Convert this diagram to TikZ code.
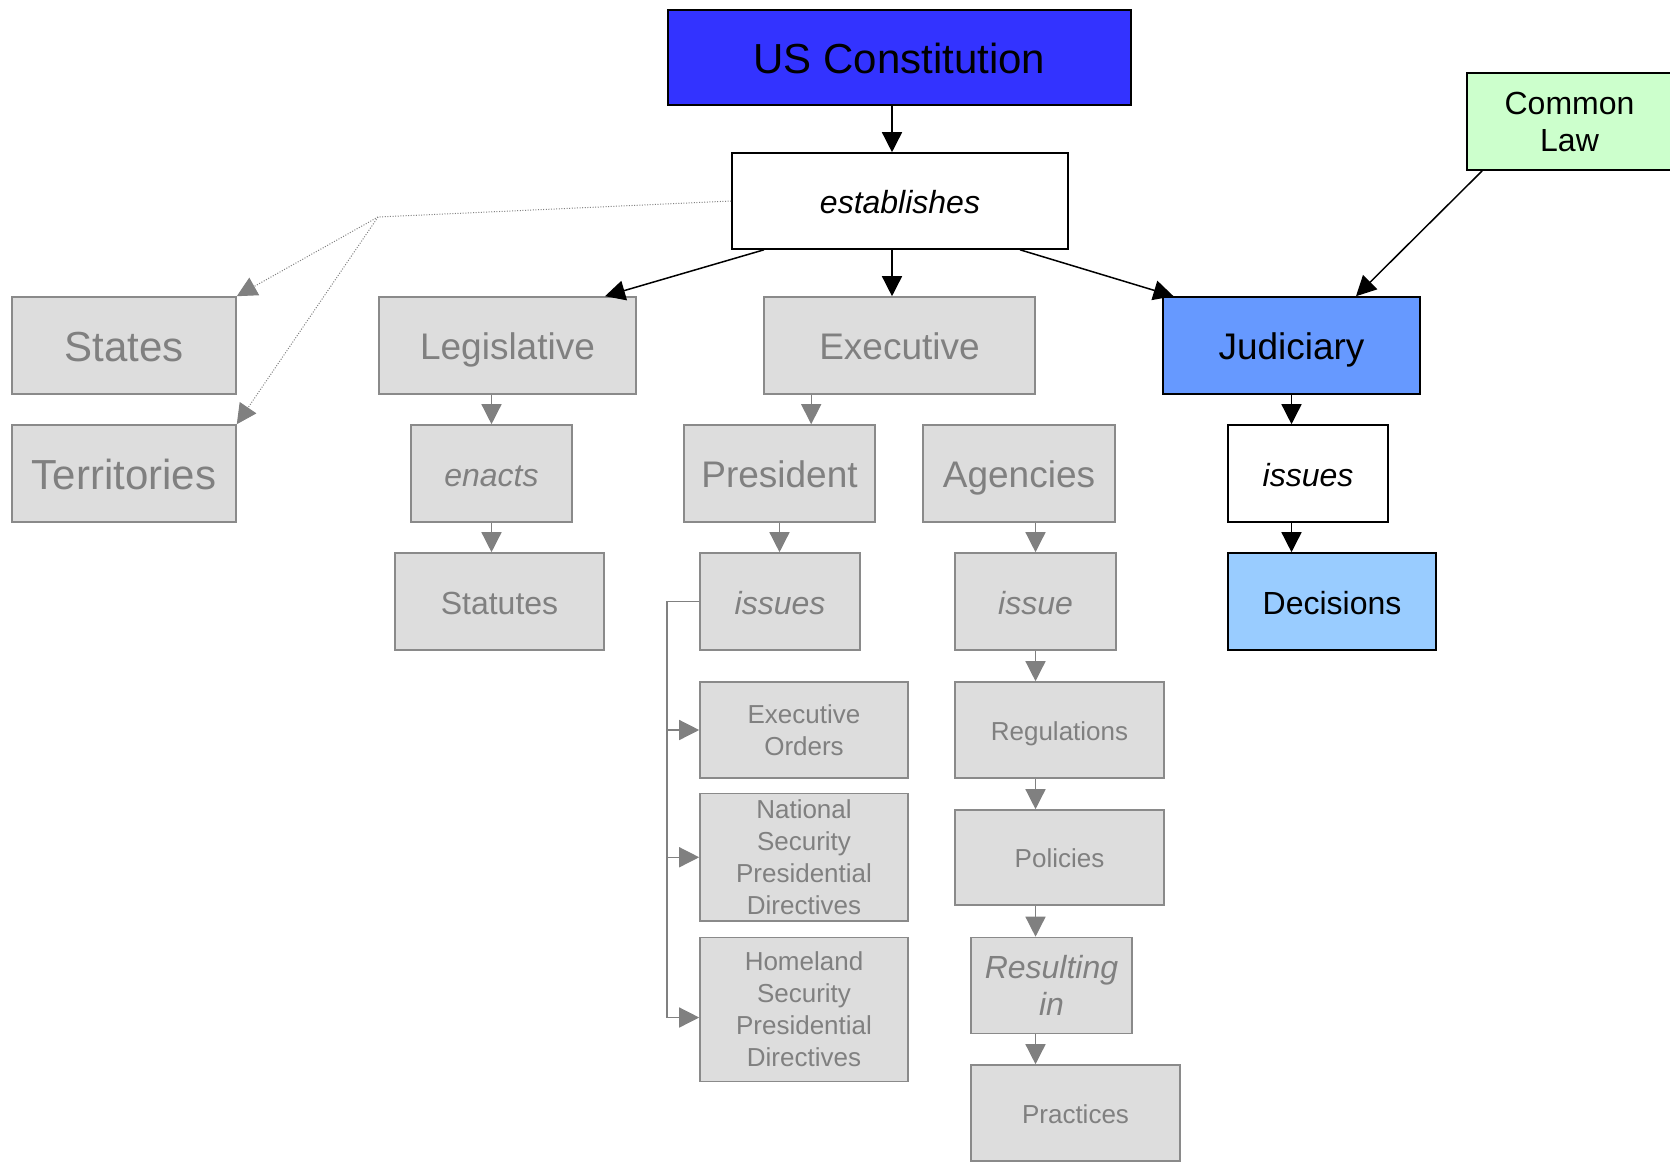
\documentclass[tikz,border=0pt]{standalone}
\usepackage{fontspec}
\setmainfont{Liberation Sans}
\usetikzlibrary{arrows.meta,calc}

\definecolor{conblue}{HTML}{3333FF}
\definecolor{judblue}{HTML}{6699FF}
\definecolor{decblue}{HTML}{99CCFF}
\definecolor{lawgreen}{HTML}{CCFFCC}
\definecolor{boxgrey}{HTML}{DDDDDD}
\definecolor{edgegrey}{HTML}{8A8A8A}
\definecolor{txtgrey}{HTML}{808080}

\tikzset{
  box/.style={rectangle, inner sep=0pt, line width=0.8pt},
  keybox/.style={box, draw=black, text=black},
  greybox/.style={box, draw=edgegrey, fill=boxgrey, text=txtgrey},
  bigtext/.style={font=\fontsize{21}{25}\selectfont, text height=16.4pt, text depth=0pt},
  branchtext/.style={font=\fontsize{18.5}{22}\selectfont, text height=14.4pt, text depth=0pt},
  midtext/.style={font=\fontsize{16}{18.5}\selectfont, text height=12.5pt, text depth=0pt},
  verbtext/.style={font=\fontsize{16}{18.5}\selectfont\itshape, text height=12.5pt, text depth=0pt},
  smalltext/.style={font=\fontsize{13}{16}\selectfont, text height=10.1pt, text depth=0pt},
  twolines/.style={font=\fontsize{16}{18.5}\selectfont, align=center},
  twolinesit/.style={font=\fontsize{16}{18.5}\selectfont\itshape, align=center},
  manylines/.style={font=\fontsize{13}{16}\selectfont, align=center},
  blackarrow/.style={draw=black, line width=0.75pt, -{Triangle[length=10pt,width=10pt]}},
  greyarrow/.style={draw=txtgrey, line width=0.7pt, -{Triangle[length=10pt,width=10pt]}},
  dotarrow/.style={draw=txtgrey, line width=0.5pt, dash pattern=on 0.5pt off 0.8pt,
                   -{Triangle[length=10pt,width=10pt]}},
}

\begin{document}
\begin{tikzpicture}[x=0.5pt,y=-0.5pt]
\useasboundingbox (0,0) rectangle (1670,1162);

% top level
\node[keybox, fill=conblue, bigtext, minimum width=231.5pt, minimum height=47.5pt] (uscon) at (899.5,57.5) {US Constitution};
\node[keybox, fill=white, verbtext, minimum width=168pt, minimum height=48pt] (estab) at (900,201) {establishes};
\node[keybox, fill=lawgreen, twolines, minimum width=102.5pt, minimum height=48.5pt] (common) at (1569.5,121.5) {Common\\Law};

% first row
\node[greybox, bigtext, minimum width=112pt, minimum height=48.5pt] (states) at (124,345.5) {States};
\node[greybox, bigtext, minimum width=112pt, minimum height=48.5pt] (terr) at (124,473.5) {Territories};
\node[greybox, branchtext, minimum width=128.5pt, minimum height=48.5pt] (legis) at (507.5,345.5) {Legislative};
\node[greybox, branchtext, minimum width=135.5pt, minimum height=48.5pt] (exec) at (899.5,345.5) {Executive};
\node[keybox, fill=judblue, branchtext, minimum width=128.5pt, minimum height=48.5pt] (jud) at (1291.5,345.5) {Judiciary};

% second row
\node[greybox, verbtext, minimum width=80.5pt, minimum height=48.5pt] (enacts) at (491.5,473.5) {enacts};
\node[greybox, branchtext, minimum width=95.5pt, minimum height=48.5pt] (pres) at (779.5,473.5) {President};
\node[greybox, branchtext, minimum width=96pt, minimum height=48.5pt] (agen) at (1019,473.5) {Agencies};
\node[keybox, fill=white, verbtext, minimum width=80pt, minimum height=48.5pt] (jiss) at (1308,473.5) {issues};

% third row
\node[greybox, midtext, minimum width=104.5pt, minimum height=48.5pt] (statutes) at (499.5,601.5) {Statutes};
\node[greybox, verbtext, minimum width=80pt, minimum height=48.5pt] (piss) at (780,601.5) {issues};
\node[greybox, verbtext, minimum width=80.5pt, minimum height=48.5pt] (aiss) at (1035.5,601.5) {issue};
\node[keybox, fill=decblue, midtext, minimum width=104pt, minimum height=48.5pt] (dec) at (1332,601.5) {Decisions};

% presidential instruments
\node[greybox, manylines, minimum width=104pt, minimum height=48pt] (eo) at (804,730) {Executive\\Orders};
\node[greybox, manylines, minimum width=104pt, minimum height=63.75pt] (nspd) at (804,857.25) {National\\Security\\Presidential\\Directives};
\node[greybox, manylines, minimum width=104pt, minimum height=72pt] (hspd) at (804,1009.5) {Homeland\\Security\\Presidential\\Directives};

% agency chain
\node[greybox, smalltext, minimum width=104.5pt, minimum height=48pt] (regs) at (1059.5,730) {Regulations};
\node[greybox, smalltext, minimum width=104.5pt, minimum height=47.5pt] (pol) at (1059.5,857.5) {Policies};
\node[greybox, twolinesit, minimum width=80.5pt, minimum height=48pt] (res) at (1051.5,985.5) {Resulting\\in};
\node[greybox, smalltext, minimum width=104.5pt, minimum height=48pt] (prac) at (1075.5,1113) {Practices};

% black connectors
\draw[blackarrow] ($(uscon.south)+(-7.5,0)$) coordinate (c1) -- (c1 |- estab.north);
\draw[blackarrow] ($(estab.south)+(-136,0)$) -- ($(legis.north)+(97.5,0)$);
\draw[blackarrow] ($(estab.south)+(-8,0)$) coordinate (c2) -- (c2 |- exec.north);
\draw[blackarrow] ($(estab.south)+(120,0)$) -- ($(jud.north)+(-118,0)$);
\draw[blackarrow] ($(common.south west)+(16,0)$) -- ($(jud.north)+(64.5,0)$);
\draw[blackarrow] (jud.south) -- (jud.south |- jiss.north);
\draw[blackarrow] (jiss.south -| jud.south) -- (dec.north -| jud.south);

% dotted connectors to states and territories
\coordinate (fork) at (378,217);
\draw[dotarrow] (estab.west) -- (fork) -- (states.north east);
\draw[dotarrow] (fork) -- (terr.north east);

% grey connectors
\draw[greyarrow] (legis.south -| enacts.north) -- (enacts.north);
\draw[greyarrow] (enacts.south) -- (statutes.north -| enacts.south);
\draw[greyarrow] ($(exec.south west)+(48,0)$) coordinate (c3) -- (c3 |- pres.north);
\draw[greyarrow] (pres.south) -- (pres.south |- piss.north);
\draw[greyarrow] (aiss.north |- agen.south) -- (aiss.north);
\draw[greyarrow] (aiss.south) -- (regs.north -| aiss.south);
\draw[greyarrow] (regs.south -| aiss.south) -- (pol.north -| aiss.south);
\draw[greyarrow] (pol.south -| aiss.south) -- (res.north -| aiss.south);
\draw[greyarrow] (res.south -| aiss.south) -- (prac.north -| aiss.south);

% bus from the president's issues
\coordinate (bus) at (667,602);
\draw[greyarrow] (piss.west) -- (piss.west -| bus) |- (eo.west);
\draw[greyarrow] (piss.west -| bus) |- (nspd.west);
\draw[greyarrow] (piss.west -| bus) |- ($(hspd.west)+(0,8)$);
\end{tikzpicture}
\end{document}
